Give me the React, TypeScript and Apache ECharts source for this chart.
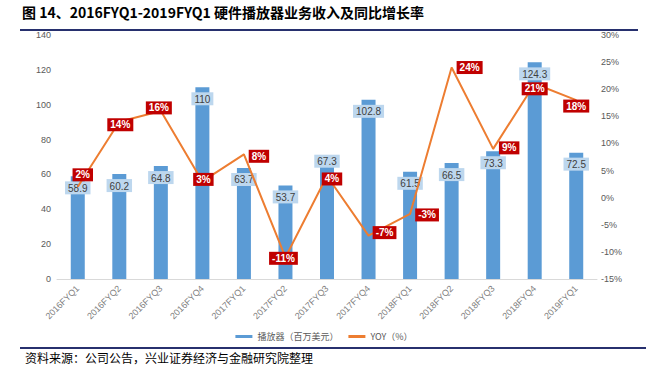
import React, { useEffect, useRef } from "react";
import * as echarts from "echarts";

const categories = [
  "2016FYQ1", "2016FYQ2", "2016FYQ3", "2016FYQ4",
  "2017FYQ1", "2017FYQ2", "2017FYQ3", "2017FYQ4",
  "2018FYQ1", "2018FYQ2", "2018FYQ3", "2018FYQ4", "2019FYQ1",
];
const playerRevenue = [58.9, 60.2, 64.8, 110, 63.7, 53.7, 67.3, 102.8, 61.5, 66.5, 73.3, 124.3, 72.5];
const yoyPercent = [2, 14, 16, 3, 8, -11, 4, -7, -3, 24, 9, 21, 18];
const yoyLabelOffsets: [number, number][] = [
  [5, -12], [1, 3], [-2, -3], [1, -2], [15, 2], [-2, 1], [5, 3],
  [16, -3], [17, 1], [18, 0], [16, -1], [0, 5], [0, 6],
];
const leftTicks = { min: 0, max: 140, interval: 20 };
const rightTicks = { min: -15, max: 30, interval: 5 };

const TITLE = "图 14、2016FYQ1-2019FYQ1 硬件播放器业务收入及同比增长率";
const SOURCE = "资料来源：公司公告，兴业证券经济与金融研究院整理";
const BAR_NAME = "播放器（百万美元）";
const LINE_NAME = "YOY（%）";

export default function App() {
  const ref = useRef<HTMLDivElement>(null);
  useEffect(() => {
    if (!ref.current) return;
    const chart = echarts.init(ref.current, undefined, { renderer: "svg" });
    const latin = "'Liberation Sans', Arial, sans-serif";
    chart.setOption({
      animation: false,
      backgroundColor: "#ffffff",
      grid: { left: 57, right: 51, top: 35, bottom: 99 },
      legend: {
        bottom: 32,
        left: "center",
        itemWidth: 17,
        itemHeight: 3,
        itemGap: 10,
        textStyle: { fontSize: 9, color: "#595959", fontFamily: "'Noto Sans CJK SC', sans-serif" },
        data: [
          { name: BAR_NAME, icon: "rect" },
          { name: LINE_NAME, icon: "rect" },
        ],
      },
      xAxis: {
        type: "category",
        data: categories,
        axisLine: { lineStyle: { color: "#D9D9D9", width: 1 } },
        axisTick: { show: false },
        axisLabel: { rotate: 45, fontSize: 9, color: "#7F7F7F", fontFamily: latin, margin: 8 },
      },
      yAxis: [
        {
          type: "value",
          ...leftTicks,
          splitLine: { show: false },
          axisLine: { show: false },
          axisTick: { show: false },
          axisLabel: { fontSize: 9, color: "#595959", fontFamily: latin, margin: 6 },
        },
        {
          type: "value",
          ...rightTicks,
          splitLine: { show: false },
          axisLine: { show: false },
          axisTick: { show: false },
          axisLabel: { fontSize: 9, color: "#595959", fontFamily: latin, formatter: "{value}%", margin: 4 },
        },
      ],
      series: [
        {
          name: BAR_NAME,
          type: "bar",
          barWidth: 14,
          itemStyle: { color: "#5B9BD5" },
          data: playerRevenue.map((v, i) =>
            i === 6 ? { value: v, label: { offset: [0, -12] } } : v
          ),
          label: {
            show: true,
            position: "insideTop",
            distance: 5,
            backgroundColor: "#BDD7EE",
            color: "#404040",
            fontSize: 10,
            fontFamily: latin,
            padding: [2, 3, 1, 3],
          },
          z: 2,
        },
        {
          name: LINE_NAME,
          type: "line",
          yAxisIndex: 1,
          symbol: "circle",
          symbolSize: 1,
          itemStyle: { color: "#ED7D31" },
          lineStyle: { color: "#ED7D31", width: 2 },
          data: yoyPercent.map((v, i) => ({ value: v, label: { offset: yoyLabelOffsets[i] } })),
          label: {
            show: true,
            position: "inside",
            formatter: "{c}%",
            backgroundColor: "#C00000",
            color: "#ffffff",
            fontWeight: "bold",
            fontSize: 10,
            fontFamily: latin,
            padding: [2, 3, 1, 3],
          },
          z: 3,
        },
      ],
      graphic: [
        {
          type: "text",
          left: 22,
          top: 5,
          style: {
            text: TITLE,
            fontSize: 14,
            fontWeight: "bold",
            fill: "#000000",
            fontFamily: "'Noto Sans CJK SC', sans-serif",
          },
        },
        {
          type: "line",
          shape: { x1: 20, y1: 30, x2: 638, y2: 30 },
          style: { stroke: "#27306E", lineWidth: 2 },
        },
        {
          type: "line",
          shape: { x1: 20, y1: 348, x2: 646, y2: 348 },
          style: { stroke: "#27306E", lineWidth: 2 },
        },
        {
          type: "text",
          left: 25,
          top: 351,
          style: {
            text: SOURCE,
            fontSize: 12,
            fill: "#000000",
            fontFamily: "'Noto Sans CJK SC', sans-serif",
          },
        },
      ],
    });
    return () => chart.dispose();
  }, []);
  return (
    <div
      ref={ref}
      style={{ position: "absolute", left: 0, top: 0, width: 648, height: 378 }}
    />
  );
}
